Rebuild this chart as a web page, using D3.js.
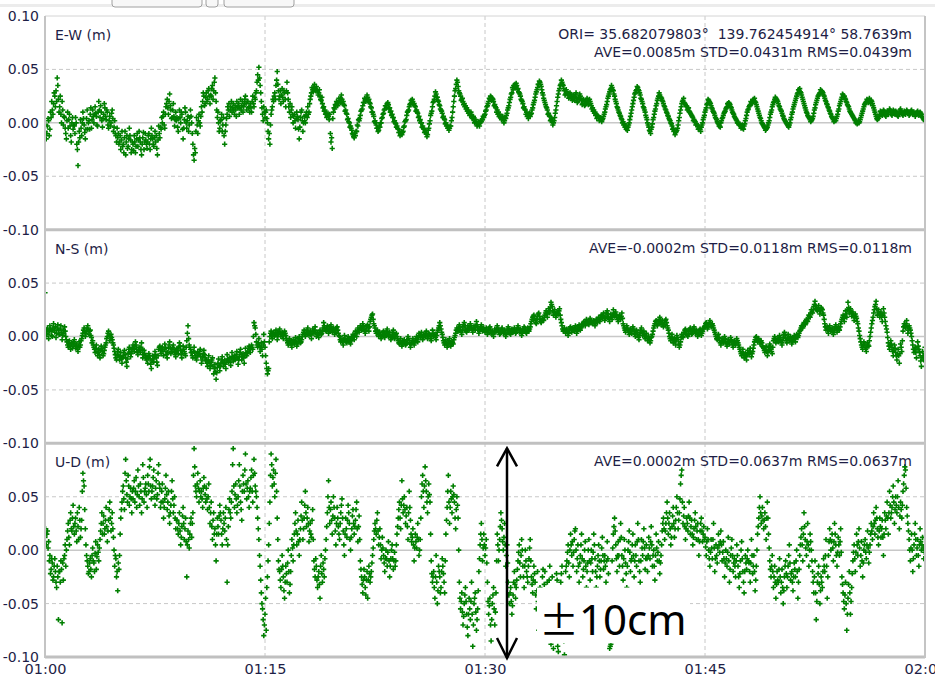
<!DOCTYPE html>
<html>
<head>
<meta charset="utf-8">
<script src="https://cdn.jsdelivr.net/npm/d3@7/dist/d3.min.js"></script>
<style>
    html, body { margin: 0; padding: 0; background: #fff; }
    svg { display: block; }
    .tick text { font-family: "DejaVu Sans", Verdana, sans-serif; font-size: 14px; fill: #1e1e46; }
    .panel-name, .panel-stat { font-family: "DejaVu Sans", Verdana, sans-serif; font-size: 14px; fill: #1e1e46; white-space: pre; }
</style>
</head>
<body>
<svg id="chart" width="935" height="678"></svg>
<script>
"use strict";

// time axis
const timeLabels = ["01:00", "01:15", "01:30", "01:45", "02:00"];
const stepSeconds = 2.5;
const yTicks = [0.10, 0.05, 0.00, -0.05, -0.10];

const panelNames = ["E-W (m)", "N-S (m)", "U-D (m)"];
const panelStats = [
    ["ORI= 35.682079803°  139.762454914° 58.7639m", "AVE=0.0085m STD=0.0431m RMS=0.0439m"],
    ["AVE=-0.0002m STD=0.0118m RMS=0.0118m"],
    ["AVE=0.0002m STD=0.0637m RMS=0.0637m"]
];

// annotation
const arrowTime = "01:31:30";
const arrowLabel = "\u00b110cm";

// series in mm, one row = one minute (2.5 s steps)
const ewMm = [
    -8, -2, -15, -10, -3, 4, 2, -12, -6, 10, 5, 20, 12, 8, 18, 28, 25, 15, 30, 20, 42, 35, 22, 10,
    15, 25, 8, 0, 20, 12, -2, 6, 5, -5, -10, -15, 2, 10, -5, 3, 8, -3, -12, -18, 0, 5, -6, -2,
    -3, -10, 5, 0, -20, -25, -40, -18, -8, -14, 3, -5, -12, 0, 10, 4, -2, -9, -15, -6, 4, 12, -6, 0,
    2, -6, 8, 14, -5, 3, 12, 6, 0, 8, 15, 9, 6, -2, -3, 10, 20, 12, 5, 16, 10, 2, -4, 4,
    8, 18, 14, 6, 3, 12, 10, -2, -5, 2, 6, -3, 0, 9, 12, 4, -8, -4, 2, -10, -12, -18, -5, -14,
    -10, -20, -18, -12, -25, -16, -8, -22, -20, -28, -14, -8, -30, -18, -12, -24, -22, -15, -5, -12, -16, -28, -25, -18,
    -20, -26, -12, -18, -28, -22, -15, -10, -22, -16, -8, -14, -18, -25, -30, -20, -14, -9, -25, -18, -10, -16, -20, -24,
    -18, -12, -10, -20, -25, -15, -5, -12, -15, -20, -22, -14, -8, -18, -12, -24, -30, -16, -3, -10, -14, -4, -6, 5,
    0, 6, 10, -2, -5, 8, 15, 18, 22, 14, 8, 20, 27, 16, 12, 4, 5, 12, 18, 6, -3, 3, 10, 2,
    5, -4, -8, 4, 12, 5, 0, 10, 8, -6, -15, -5, 3, 14, 10, 0, -5, 2, 6, -8, -2, 5, 12, 6,
    0, -10, -20, -30, -35, -24, -28, -8, 5, -2, -10, 2, 8, 0, -3, 6, 15, 10, 20, 28, 25, 16, 18, 24,
    28, 20, 22, 30, 32, 25, 18, 26, 25, 32, 35, 22, 30, 38, 42, 28, 20, 12, 5, 10, 0, -8, -5, 2,
    3, 8, -8, -2, 5, -12, -20, -8, -2, 4, 8, 15, 12, 18, 6, 12, 15, 20, 10, 14, 18, 12, 8, 16,
    12, 6, 20, 15, 14, 18, 8, 14, 22, 12, 16, 20, 10, 15, 18, 22, 25, 18, 12, 20, 20, 14, 15, 10,
    18, 14, 10, 20, 25, 18, 15, 24, 22, 28, 30, 38, 45, 40, 52, 42, 35, 28, 20, 14, 8, 2, 15, 10,
    5, 10, 12, 4, 0, -8, -15, -10, -20, -2, 8, 12, 15, 22, 20, 25, 28, 22, 35, 40, 48, 36, 30, 22,
    25, 30, 18, 26, 32, 24, 20, 30, 28, 22, 15, 30, 38, 28, 22, 15, 10, 18, 5, 12, 15, 8, 0, 6,
    8, 2, -5, 4, 10, 6, 3, -6, -15, -4, 5, 10, 12, 2, -8, 0, 6, 2, 0, 7, 10, 5, 15, 8,
    10, 18, 22, 25, 28, 33, 31, 29, 33, 36, 32, 30, 34, 31, 30, 26, 28, 31, 25, 22, 21, 24, 18, 14,
    15, 11, 12, 8, 9, 5, 7, 9, 6, 3, 8, -10, -18, -14, -24, 4, 10, 14, 13, 17, 16, 20, 18, 16,
    19, 23, 21, 19, 23, 26, 22, 18, 20, 17, 16, 11, 12, 9, 8, 3, 4, 1, 0, -4, -3, -5, -7, -10,
    -11, -13, -14, -10, -12, -8, -8, -2, -3, 3, 2, 4, 7, 11, 12, 13, 16, 19, 19, 23, 22, 20, 23, 26,
    24, 21, 22, 19, 18, 15, 14, 10, 10, 8, 6, 1, 2, 0, -2, -5, -5, -8, -7, -3, -4, 0, 0, 4,
    5, 8, 9, 12, 13, 16, 16, 14, 18, 19, 17, 13, 14, 10, 11, 7, 8, 5, 5, 1, 2, 0, -1, -4,
    -3, -5, -6, -9, -9, -12, -10, -8, -11, -9, -8, -4, -3, 1, 2, 3, 7, 10, 11, 12, 15, 17, 18, 21,
    19, 22, 20, 17, 18, 16, 15, 11, 12, 10, 9, 5, 6, 2, 3, 0, 0, -4, -3, -5, -6, -9, -8, -7,
    -10, -13, -11, -7, -5, -1, 2, 7, 9, 11, 15, 19, 20, 22, 25, 29, 27, 24, 24, 21, 20, 17, 16, 13,
    12, 11, 9, 5, 6, 4, 3, -1, 0, -3, -2, -5, -4, -7, -5, -3, -3, 2, 5, 10, 15, 20, 25, 30,
    32, 36, 40, 38, 34, 30, 28, 27, 25, 21, 22, 23, 20, 17, 18, 15, 16, 13, 14, 11, 12, 9, 10, 7,
    8, 10, 7, 4, 5, 6, 3, 0, 1, 3, 0, -3, -2, 1, -1, -3, 0, 2, 1, 3, 3, 6, 5, 7,
    8, 11, 12, 15, 16, 18, 20, 23, 22, 25, 24, 21, 23, 22, 20, 16, 17, 15, 14, 10, 12, 8, 10, 6,
    8, 5, 6, 3, 4, 6, 3, 0, 2, 5, 4, 7, 9, 12, 14, 16, 19, 22, 24, 27, 28, 33, 31, 35,
    33, 36, 34, 37, 35, 31, 32, 29, 28, 27, 25, 22, 21, 20, 18, 14, 15, 13, 12, 8, 10, 6, 8, 4,
    7, 9, 6, 8, 9, 12, 14, 17, 19, 21, 24, 27, 29, 31, 33, 36, 36, 39, 38, 36, 34, 31, 28, 26,
    23, 21, 19, 17, 15, 14, 12, 8, 9, 7, 6, 2, 3, 4, 1, -2, 0, 2, 5, 9, 12, 16, 20, 24,
    27, 30, 32, 35, 36, 40, 38, 36, 35, 32, 30, 26, 27, 31, 29, 27, 26, 23, 24, 28, 27, 23, 25, 21,
    22, 26, 24, 21, 26, 28, 23, 19, 20, 24, 22, 27, 25, 23, 21, 17, 18, 22, 20, 16, 17, 21, 19, 23,
    21, 17, 18, 22, 20, 18, 16, 13, 14, 11, 12, 9, 10, 7, 8, 4, 7, 6, 5, 2, 4, 5, 3, 1,
    3, 4, 6, 8, 10, 13, 15, 17, 20, 23, 25, 27, 29, 31, 32, 35, 33, 31, 30, 27, 25, 22, 20, 18,
    15, 14, 12, 10, 9, 7, 6, 4, 3, 0, 1, -2, -1, -4, -3, -6, -5, -7, -4, -2, 0, 3, 6, 9,
    12, 15, 18, 21, 24, 27, 28, 30, 31, 34, 33, 31, 30, 28, 26, 23, 22, 20, 18, 15, 14, 12, 10, 7,
    5, 3, 0, -2, -4, -7, -8, -10, -6, -4, -1, 3, 5, 8, 11, 13, 16, 18, 21, 23, 25, 28, 26, 24,
    24, 23, 21, 20, 18, 16, 15, 13, 12, 10, 9, 7, 6, 4, 3, 2, 0, -1, -3, -6, -5, -8, -7, -11,
    -9, -8, -7, -5, -2, 2, 5, 9, 12, 15, 18, 20, 21, 23, 19, 18, 17, 16, 15, 12, 13, 14, 11, 10,
    9, 8, 7, 6, 5, 2, 3, 2, 1, -2, -1, -2, -3, -6, -5, -4, -6, -8, -4, -2, 0, 3, 5, 7,
    10, 12, 14, 17, 18, 22, 21, 20, 19, 18, 16, 14, 13, 11, 10, 9, 7, 5, 4, 3, 1, 0, -1, -3,
    -3, -4, 0, 2, 4, 5, 7, 9, 10, 11, 13, 14, 15, 18, 17, 19, 18, 17, 15, 14, 12, 10, 9, 8,
    6, 5, 4, 3, 2, 0, 0, -1, -2, -1, -3, -5, -4, -2, -5, -6, -3, -1, 2, 4, 7, 10, 12, 13,
    15, 16, 17, 20, 19, 18, 20, 22, 21, 23, 20, 19, 17, 15, 13, 11, 9, 7, 5, 4, 2, 0, -1, -2,
    -3, -4, -5, -7, -6, -5, -4, -2, 0, 2, 5, 8, 10, 12, 15, 17, 19, 20, 22, 24, 23, 22, 21, 20,
    18, 16, 15, 13, 12, 11, 9, 7, 6, 4, 3, 2, 1, 0, -1, -2, -3, -4, -2, 0, 3, 5, 8, 10,
    13, 15, 17, 19, 21, 23, 25, 27, 28, 31, 30, 32, 29, 28, 26, 24, 22, 20, 18, 16, 14, 12, 10, 9,
    7, 6, 5, 4, 3, 1, 2, 3, 4, 6, 9, 12, 14, 17, 19, 21, 23, 25, 26, 27, 28, 31, 29, 30,
    29, 28, 26, 25, 23, 21, 20, 18, 17, 15, 14, 12, 11, 9, 8, 6, 5, 4, 3, 1, 2, 4, 2, 4,
    6, 8, 11, 13, 16, 18, 20, 22, 24, 27, 26, 24, 25, 23, 22, 20, 19, 17, 16, 15, 13, 11, 10, 9,
    8, 7, 6, 5, 4, 3, 2, 0, 1, -1, 0, 2, 0, 1, 3, 5, 7, 9, 11, 13, 15, 17, 18, 19,
    20, 22, 21, 19, 21, 23, 20, 18, 21, 20, 18, 16, 14, 12, 10, 8, 6, 4, 3, 5, 4, 6, 8, 11,
    10, 8, 7, 10, 12, 11, 9, 7, 6, 9, 11, 10, 8, 11, 13, 12, 10, 8, 7, 9, 12, 11, 9, 8,
    11, 10, 8, 7, 6, 8, 10, 12, 13, 11, 9, 8, 7, 9, 11, 10, 8, 10, 12, 11, 10, 9, 7, 8,
    9, 11, 12, 10, 8, 9, 10, 8, 6, 8, 9, 10, 11, 9, 7, 8, 10, 9, 8, 6, 5, 4, 3, 4,
    2
];

const nsMm = [
    41, 0, 3, 6, 8, 2, -2, 5, 10, 7, 5, 1, 0, 8, 12, 6, 4, 9, -1, 3, 8, 11, 6, 2,
    2, 7, 10, 4, -3, 1, 6, 3, 9, 5, 0, -3, -5, -8, -10, -6, -4, -9, -12, -7, -6, -11, -9, -5,
    -3, -7, -11, -9, -7, -12, -14, -9, -5, -10, -8, -4, -2, 1, 3, 6, 8, 4, 0, 3, 5, 8, 10, 6,
    2, 5, 6, 1, -1, -6, -4, -8, -10, -12, -15, -11, -8, -14, -18, -15, -12, -17, -20, -13, -9, -11, -14, -18,
    -16, -13, -10, -8, -6, -2, 0, 3, 5, 1, -4, 0, 2, -1, -3, -6, -8, -11, -14, -17, -20, -22, -17, -14,
    -12, -18, -22, -19, -15, -21, -25, -20, -18, -15, -13, -17, -20, -24, -28, -21, -16, -12, -10, -15, -19, -16, -14, -11,
    -8, -11, -14, -9, -5, -8, -12, -15, -17, -13, -10, -13, -15, -10, -6, -12, -20, -17, -13, -16, -18, -20, -22, -19,
    -25, -20, -16, -18, -21, -26, -30, -23, -18, -21, -24, -19, -14, -17, -20, -24, -27, -18, -12, -10, -9, -13, -16, -12,
    -10, -14, -18, -12, -7, -10, -14, -17, -20, -15, -11, -8, -5, -11, -16, -14, -12, -10, -8, -12, -15, -17, -19, -14,
    -11, -13, -16, -10, -6, -9, -13, -17, -20, -14, -9, -12, -14, -16, -18, -10, -4, 3, 10, -2, -8, -10, -12, -15,
    -15, -18, -20, -14, -10, -15, -18, -20, -22, -18, -14, -16, -17, -14, -12, -19, -25, -22, -19, -16, -13, -17, -20, -23,
    -22, -25, -28, -22, -18, -24, -30, -27, -24, -22, -20, -28, -35, -30, -26, -33, -40, -34, -29, -25, -21, -27, -32, -28,
    -25, -22, -19, -24, -28, -25, -22, -26, -30, -23, -17, -21, -24, -22, -20, -24, -27, -20, -15, -19, -23, -21, -18, -22,
    -21, -17, -14, -20, -26, -22, -19, -15, -12, -17, -22, -19, -16, -20, -25, -18, -11, -15, -18, -16, -14, -11, -9, -12,
    -15, -11, -8, -10, -12, 0, 13, 10, 8, 2, -5, -8, -10, -6, -2, -9, -14, -10, -6, -12, -18, -8, 2, -5,
    -10, -18, -25, -30, -35, -32, -30, -5, 0, 3, 5, 1, -2, 2, 4, 0, 1, 4, 6, 2, -3, 0, 3, 5,
    7, 3, 0, 2, 4, 1, -2, 2, 5, 3, 1, -2, -4, -6, -8, -5, -2, -4, -6, -8, -10, -6, -3, -5,
    -7, -4, -1, -5, -9, -7, -5, -2, 0, -3, -6, -5, -3, 0, 2, 4, 6, 3, 0, 2, 4, 6, 8, 4,
    1, 3, 5, 2, -2, 3, 7, 5, 3, 6, 9, 4, 0, 2, 4, 1, -1, 3, 6, 4, 2, 3, 5, 8,
    13, 10, 8, 6, 5, 8, 10, 6, 3, 5, 7, 9, 11, 7, 4, 6, 8, 5, 2, 4, 6, 8, 9, 6,
    3, 1, 0, -3, -5, -4, -2, -5, -8, -3, 1, -2, -4, -5, -6, -2, 0, -2, -3, -5, -7, -4, -1, 0,
    2, 0, -3, 1, 5, 3, 0, 4, 8, 6, 4, 7, 10, 8, 6, 9, 12, 10, 7, 5, 3, 6, 9, 10,
    11, 8, 5, 9, 14, 16, 18, 20, 21, 16, 12, 10, 8, 5, 3, 5, 6, 3, 0, 2, 4, 1, -2, 0,
    2, 4, 5, 2, -1, 1, 3, 5, 7, 3, 0, 2, 4, 0, -3, -1, 1, 4, 6, 2, -2, 0, 2, 3,
    0, -2, -4, -6, -7, -4, -2, -6, -9, -7, -5, -4, -3, -6, -8, -7, -6, -3, 0, -2, -4, -7, -10, -7,
    -6, -4, -2, -5, -8, -6, -4, -2, 0, -3, -5, -1, 3, 1, -1, 2, 4, 0, -3, -1, 2, 1, 0, 3,
    5, 1, -2, 1, 3, 2, 1, -2, -4, 1, 6, 3, 0, 1, 2, -1, -3, 1, 4, 6, 8, 10, 13, 10,
    7, 4, 2, -1, -4, -6, -8, -5, -3, -7, -10, -8, -6, -4, -2, -6, -9, -7, -5, -6, -7, -3, -1, 1,
    3, 6, 8, 6, 5, 8, 11, 9, 6, 4, 2, 6, 9, 11, 13, 10, 7, 5, 4, 7, 10, 8, 6, 9,
    12, 10, 8, 6, 4, 7, 10, 8, 6, 10, 14, 11, 9, 6, 3, 5, 7, 9, 11, 8, 5, 6, 8, 6,
    4, 6, 8, 5, 2, 4, 6, 8, 9, 6, 3, 4, 5, 2, 0, 4, 7, 5, 4, 7, 10, 8, 6, 4,
    2, 3, 5, 7, 8, 5, 3, 4, 6, 3, 0, 2, 4, 7, 9, 7, 5, 3, 2, 5, 7, 5, 4, 6,
    8, 5, 3, 4, 6, 8, 10, 7, 4, 6, 7, 4, 1, 3, 5, 7, 9, 8, 6, 4, 3, 5, 8, 6,
    5, 7, 9, 12, 14, 16, 18, 19, 20, 17, 15, 13, 12, 16, 19, 21, 22, 19, 16, 14, 13, 15, 17, 16,
    15, 18, 20, 22, 24, 21, 18, 22, 26, 24, 22, 27, 32, 30, 28, 24, 20, 23, 25, 21, 18, 20, 23, 22,
    21, 24, 26, 20, 16, 13, 10, 7, 5, 6, 8, 5, 3, 5, 7, 4, 1, 3, 6, 8, 9, 6, 4, 6,
    8, 6, 5, 8, 10, 6, 3, 5, 7, 9, 11, 8, 6, 8, 9, 11, 12, 13, 14, 12, 10, 13, 16, 14,
    13, 12, 11, 14, 17, 15, 14, 13, 12, 14, 15, 12, 10, 13, 16, 14, 13, 16, 18, 16, 14, 17, 20, 18,
    17, 20, 22, 18, 15, 17, 19, 22, 24, 21, 18, 16, 14, 18, 21, 18, 16, 20, 25, 22, 19, 21, 23, 20,
    18, 16, 14, 17, 20, 18, 16, 19, 22, 17, 12, 10, 8, 6, 4, 7, 10, 8, 6, 4, 2, 5, 7, 5,
    3, 6, 9, 7, 5, 2, 0, 3, 6, 4, 2, -1, -3, 1, 4, 6, 8, 4, 1, 3, 5, 1, -2, 0,
    3, 0, -4, -2, 0, -3, -6, -4, -1, 0, 2, 5, 8, 10, 12, 14, 15, 12, 10, 12, 14, 16, 18, 15,
    11, 13, 15, 12, 9, 11, 13, 15, 16, 13, 10, 8, 6, 3, 0, -2, -4, -1, 2, -2, -6, -4, -2, -5,
    -8, -3, 1, -1, -3, -7, -10, -8, -5, -1, 2, 0, -1, 2, 4, 6, 7, 5, 3, 1, 0, 3, 6, 7,
    8, 5, 2, 3, 5, 7, 9, 6, 3, 4, 6, 3, 0, 2, 4, 6, 7, 4, 1, 3, 5, 7, 8, 9,
    10, 12, 13, 10, 7, 9, 11, 13, 15, 12, 9, 11, 12, 10, 8, 6, 4, 2, 0, -2, -3, -1, 2, -1,
    -4, -6, -8, -5, -2, -4, -6, -3, 0, -2, -5, -7, -9, -6, -3, -5, -7, -4, -1, -3, -5, -8, -10, -7,
    -4, -6, -8, -5, -2, -4, -6, -8, -10, -12, -14, -16, -18, -15, -12, -16, -20, -18, -16, -19, -22, -17, -13, -15,
    -17, -14, -11, -15, -19, -16, -14, -11, -8, -5, -3, -1, 0, -3, -5, -3, -2, -4, -7, -5, -4, -6, -9, -10,
    -11, -13, -15, -12, -9, -14, -18, -15, -13, -10, -7, -9, -12, -14, -16, -10, -4, -2, 0, -3, -6, -4, -2, -4,
    -5, -2, 1, -1, -3, -6, -8, -4, -1, 2, 4, 1, -2, -4, -6, -2, 2, -1, -4, -2, 0, -4, -7, -5,
    -3, -1, 1, -2, -5, -1, 2, 0, -1, 1, 3, 5, 6, 8, 10, 9, 8, 11, 13, 12, 11, 14, 16, 15,
    14, 17, 20, 19, 18, 22, 25, 23, 22, 25, 28, 30, 33, 29, 26, 25, 24, 27, 29, 25, 21, 24, 27, 26,
    25, 22, 20, 16, 12, 9, 6, 8, 9, 6, 3, 7, 10, 7, 5, 6, 8, 5, 2, 4, 7, 9, 11, 8,
    4, 6, 9, 7, 6, 9, 12, 14, 16, 18, 20, 17, 14, 19, 24, 21, 18, 25, 32, 27, 22, 24, 26, 23,
    19, 21, 23, 19, 15, 18, 21, 19, 17, 14, 12, 8, 5, 1, -2, -5, -8, -10, -12, -8, -5, -7, -10, -12,
    -14, -10, -6, -8, -9, -4, 0, 4, 8, 12, 15, 18, 22, 25, 28, 30, 33, 26, 20, 23, 25, 21, 18, 21,
    23, 18, 14, 20, 26, 22, 18, 14, 10, 7, 4, -1, -6, -9, -12, -8, -4, -7, -10, -14, -18, -13, -8, -11,
    -15, -18, -22, -17, -12, -18, -25, -16, -7, -10, -14, -4, 5, 9, 12, 10, 8, 12, 15, 9, 3, 6, 10, 8,
    6, 3, 0, -4, -8, -12, -15, -12, -10, -15, -20, -12, -5, -9, -12, -15, -18, -23, -28, -20, -14, -18, -22, -16,
    -10
];

const udMm = [
    12, 20, 5, 15, 18, 2, 8, -10, -5, -22, -18, -8, -12, -28, -25, -15, -8, -20, -30, -35, -15, -25, -65, -20,
    -20, -30, -10, -18, -68, -12, -28, -8, -5, 5, -15, 0, 10, 18, 25, 12, 5, 28, 35, 20, 18, 30, 42, 22,
    15, 25, 30, 18, 8, 35, 22, 10, 40, 28, 12, 20, 28, 55, 72, 65, 60, 38, 20, 5, -5, -10, -15, -22,
    -20, -12, -8, -18, -25, -5, 2, -10, -12, -20, -3, 8, -18, -6, 5, -2, -10, 2, 10, 18, 25, 35, 15, 25,
    32, 15, 20, 28, 40, 22, 8, 18, 28, 38, 45, 30, 18, 25, 35, 20, 12, 0, -15, -5, -8, -25, -20, -38,
    -12, -18, -5, 15, 30, 38, 45, 55, 60, 48, 38, 72, 85, 65, 52, 45, 70, 60, 42, 50, 58, 48, 35, 55,
    48, 58, 65, 45, 55, 68, 40, 52, 75, 60, 50, 42, 62, 55, 35, 48, 80, 68, 45, 55, 58, 62, 52, 40,
    70, 62, 55, 78, 85, 60, 48, 55, 60, 68, 75, 50, 42, 58, 65, 48, 52, 72, 80, 62, 58, 40, 45, 55,
    62, 45, 30, 40, 48, 58, 70, 52, 38, 45, 55, 32, 25, 35, 42, 55, 65, 48, 35, 42, 50, 30, 20, 28,
    28, 20, 15, 25, 35, 18, 5, 12, 22, 32, 40, 25, 10, 20, 30, 8, -25, 5, 18, 10, 2, 15, 25, 30,
    12, 25, 35, 70, 95, 78, 60, 55, 50, 62, 72, 58, 45, 55, 65, 50, 55, 48, 40, 58, 68, 60, 52, 45,
    58, 48, 38, 50, 62, 40, 25, 35, 45, 22, 10, 28, 35, 15, 20, 5, -10, 15, 30, 22, 15, 32, 42, 35,
    28, 15, 5, 20, 35, 25, 18, 30, 40, 10, -30, 5, 22, 38, 48, 35, 30, 45, 55, 80, 95, 60, 40, 52,
    62, 48, 35, 42, 50, 65, 80, 60, 45, 38, 28, 55, 70, 62, 55, 75, 90, 62, 48, 58, 65, 50, 40, 55,
    58, 68, 75, 55, 45, 70, 85, 72, 60, 55, 50, 40, 30, 20, 10, -5, -15, -28, -40, -50, -55, -65, -80, -70,
    -60, -45, -75, -35, -25, -10, 5, 25, 45, 70, 90, 80, 60, 68, 75, 62, 50, 72, 85, 55, 30, 10, -10, -18,
    -20, -28, -35, -18, -5, -15, -25, -38, -45, -30, -15, -22, -30, -12, 0, -20, -40, -32, -20, -5, 10, 2, -10, 5,
    15, 25, 35, 18, 5, 15, 28, 8, -5, 10, 20, 32, 45, 28, 10, 20, 30, 42, 55, 35, 22, 30, 40, 25,
    8, 18, 25, 15, 12, 28, 38, 10, -10, -18, -25, -8, -15, -28, -35, -25, -20, -32, -45, -15, -5, -22, -30, -12,
    -18, -25, -8, 0, 10, 22, 35, 50, 65, 40, 25, 38, 45, 28, 15, 32, 50, 40, 30, 18, 5, 25, 40, 30,
    22, 15, 10, 25, 35, 42, 48, 30, 18, 5, -5, 15, 30, 20, 12, 28, 42, 35, 25, 10, 0, 12, 20, 32,
    38, 25, 15, 22, 28, 38, 45, 20, 8, 22, 32, 10, -10, -18, -25, -32, -40, -28, -18, -25, -35, -42, -28, -20,
    -45, -28, -15, -22, -30, -25, -20, -12, -5, 2, 10, 18, 25, 20, 15, 28, 35, 18, 5, 12, 20, 5, -8, 0,
    12, 2, -5, -12, -20, -8, 0, -8, -15, -2, 8, -10, -25, -15, -8, 0, 5, -8, -18, -10, -2, -15, -10, 5,
    15, 22, 30, 38, 45, 30, 20, 42, 65, 48, 35, 42, 50, 38, 25, 32, 40, 22, 10, 35, 55, 40, 28, 15,
    8, 12, 20, 5, -10, 2, 15, 8, 2, 12, 25, 10, -5, 0, 10, 30, 50, 62, 70, 55, 40, 60, 78, 65,
    55, 45, 35, 50, 62, 52, 45, 15, -10, -22, -30, -25, -20, -35, -45, -25, -5, -30, -50, -38, -15, -20, -25, -40,
    -35, -20, -8, -15, -22, -30, -40, -10, 15, 28, 40, 55, 70, 45, 25, 40, 55, 48, 35, 50, 60, 52, 45, 30,
    20, 38, 50, 42, 30, 0, -30, -45, -55, -48, -40, -58, -70, -62, -50, -42, -35, -48, -60, -72, -80, -60, -45, -55,
    -65, -48, -30, -60, -90, -70, -50, -45, -40, -58, -75, -65, -55, -38, -20, -8, 5, 15, 25, 10, -10, 2, 15, 5,
    -5, 2, 10, -12, -30, -48, -60, -52, -45, -70, -85, -65, -50, -42, -35, -55, -70, -58, -40, -10, 15, 5, -10, 0,
    10, 22, 35, 28, 20, 8, 0, 12, 25, 5, -15, -5, 5, -12, -30, -42, -50, -40, -35, -48, -60, -52, -42, -30,
    -20, -32, -45, -35, -28, -18, -10, -2, 5, -12, -25, -5, 10, 0, -15, -25, -35, -15, 0, -10, -20, -25, -30, -15,
    -8, 2, 10, -10, -25, -32, -40, -28, -15, -22, -30, -42, -55, -38, -20, -48, -75, -55, -35, -50, -60, -40, -25, -18,
    -45, -32, -20, -50, -70, -45, -30, -40, -50, -28, -15, -60, -88, -50, -25, -65, -92, -75, -60, -48, -40, -22, -28, -90,
    -95, -70, -50, -40, -30, -22, -15, -45, -65, -85, -98, -40, -20, -15, -10, -2, 5, -12, -25, 0, 15, 5, -5, 8,
    -15, -2, 10, 18, 20, 0, -20, -8, 5, -15, -30, -12, -5, 5, 15, -8, -25, -18, -10, 0, 8, -15, -35, -20,
    -12, 0, 10, -10, -28, -12, 0, -8, -20, -2, 15, 5, -8, -20, -35, -25, -15, -5, 5, -10, -25, -18, -10, 2,
    12, -5, -18, -10, -5, -15, -30, -10, 8, -8, -22, -50, -92, -90, -88, -40, -10, 2, 15, 22, 30, 18, 5, -8,
    -20, -5, 8, -5, -15, 10, 25, 12, -5, -15, -28, -8, 10, 0, -12, -22, -35, -15, 0, 8, 18, -2, -20, -10,
    -8, 5, 15, -5, -25, -10, 5, -5, -15, 8, 25, 10, -10, -20, -30, -10, 10, 2, -5, 8, 20, 2, -18, -8,
    5, -8, -20, -5, 12, 2, -8, 8, 22, 5, -15, -5, 0, -15, -28, -5, 15, 2, -10, -2, 8, -10, -22, -12,
    -5, 5, 18, 25, 30, 20, 10, 18, 25, 35, 45, 30, 15, 25, 35, 20, 5, 12, 22, 32, 40, 25, 12, 20,
    28, 40, 50, 35, 20, 28, 35, 48, 62, 70, 75, 45, 25, 32, 40, 22, 10, 20, 30, 25, 18, 32, 45, 30,
    15, 22, 28, 15, 5, 12, 20, 28, 35, 22, 10, 18, 25, 10, -5, 8, 18, 25, 30, 18, 8, 15, 22, 10,
    12, 3, -5, 8, 20, 10, 0, -8, -15, -2, 10, 2, -8, 10, 25, 2, -20, -8, 5, -5, -12, 2, 15, 5,
    -2, 8, 18, 5, -10, -2, 8, -8, -25, -12, 0, -8, -15, -2, 12, -10, -30, -18, -5, 2, 10, -5, -20, -12,
    -8, -15, -25, -10, 5, -5, -15, -25, -35, -22, -10, 0, 8, -8, -20, -30, -40, -20, -5, -12, -18, -8, 0, -10,
    -12, -20, -30, -12, 10, -5, -22, -15, -5, -20, -38, -28, -15, 0, 15, 22, 30, 40, 50, 35, 25, 32, 40, 28,
    20, 28, 35, 22, 10, 30, 45, 30, 15, 2, -10, -18, -25, -15, -5, -20, -35, -25, -15, -30, -45, -32, -20, -28,
    -30, -18, -8, -25, -40, -30, -18, -35, -50, -38, -25, -15, -10, -22, -35, -25, -15, -5, 5, -12, -28, -22, -20, -30,
    -38, -25, -12, -18, -25, -10, 0, -20, -45, -30, -18, -5, 5, 12, 20, 5, -10, 15, 35, 22, 10, 2, -5, 8,
    25, 5, -15, 0, 15, 8, 0, -10, -20, -30, -40, -25, -10, -40, -65, -48, -30, -22, -15, -32, -50, -38, -25, -30,
    -35, -20, -8, -15, -20, -5, 10, -15, -45, -25, -5, 8, 20, 10, 0, 8, 15, 2, -10, 8, 25, 15, 5, -5,
    -15, -2, 12, 5, -5, 8, 20, -2, -25, -32, -40, -48, -55, -42, -30, -50, -75, -60, -45, -32, -20, -40, -60, -48,
    -35, -22, -10, -2, 5, -8, -20, -2, 15, 5, -5, 8, 20, 2, -15, -5, 8, -10, -25, -12, 0, 5, 10, -2,
    -8, 5, 18, 2, -12, -2, 5, 15, 25, 18, 10, 22, 35, 25, 15, 28, 40, 30, 20, 12, 5, 18, 30, 22,
    12, 20, 28, 12, -5, 15, 35, 28, 20, 32, 45, 30, 15, 35, 55, 42, 30, 35, 40, 50, 60, 45, 25, 38,
    50, 42, 35, 50, 65, 40, 20, 32, 45, 38, 30, 42, 55, 62, 70, 78, 75, 58, 40, 32, 25, 18, 10, 0,
    -10, 2, 15, 0, -20, -8, 5, 15, 25, 10, -5, 2, 10, -5, -15, 5, 20, 8, 0, 5, 12, 2, -8, -2,
    5
];

const series = [ewMm, nsMm, udMm];

function drawChart() {
    const svg = d3.select('#chart');
    const plotLeft = 45, plotRight = 925, plotTop = 16, plotBottom = 657;
    const panelH = (plotBottom - plotTop) / series.length;
    const gridColor = '#c8c8c8';
    const markColor = '#007f00';

    // toolbar remains at the top
    svg.append('rect')
        .attr('x', 0).attr('y', 4).attr('width', 935).attr('height', 3)
        .attr('fill', '#ececec');
    [[112, 90], [206, 12], [224, 70]].forEach(b => {
        svg.append('rect')
            .attr('x', b[0]).attr('y', -10).attr('width', b[1]).attr('height', 17)
            .attr('rx', 3)
            .attr('fill', '#f7f7f7')
            .attr('stroke', '#a0a0a0');
    });

    const parseHM = d3.timeParse('%H:%M');
    const tickTimes = timeLabels.map(parseHM);
    const t0 = tickTimes[0];
    const x = d3.scaleTime()
        .domain([t0, tickTimes[tickTimes.length - 1]])
        .range([plotLeft, plotRight]);

    svg.append('defs').append('clipPath').attr('id', 'plot-clip')
        .append('rect')
        .attr('x', plotLeft).attr('y', plotTop)
        .attr('width', plotRight - plotLeft).attr('height', plotBottom - plotTop);

    // vertical grid
    svg.append('g').selectAll('line')
        .data(tickTimes.slice(1, -1))
        .join('line')
        .attr('x1', d => x(d)).attr('x2', d => x(d))
        .attr('y1', plotTop).attr('y2', plotBottom)
        .attr('stroke', gridColor)
        .attr('stroke-dasharray', '4,3');

    const crossPath = 'M-2.6,0H2.6M0,-2.6V2.6';
    let lastY = null;

    series.forEach((vals, i) => {
        const top = plotTop + i * panelH;
        const y = d3.scaleLinear().domain([-0.1, 0.1]).range([top + panelH, top]);
        lastY = y;
        const g = svg.append('g').attr('class', 'panel');

        // horizontal grid
        g.selectAll('.hgrid')
            .data(yTicks.filter(v => Math.abs(v) < 0.09))
            .join('line')
            .attr('class', 'hgrid')
            .attr('x1', plotLeft).attr('x2', plotRight)
            .attr('y1', d => y(d)).attr('y2', d => y(d))
            .attr('stroke', gridColor)
            .attr('stroke-width', d => d === 0 ? 1.5 : 1)
            .attr('stroke-dasharray', d => d === 0 ? null : '4,3');

        // points
        const pts = vals.map((v, k) => ({ t: d3.timeMillisecond.offset(t0, k * stepSeconds * 1000), v: v / 1000 }));
        g.append('g')
            .attr('clip-path', 'url(#plot-clip)')
            .selectAll('path')
            .data(pts)
            .join('path')
            .attr('transform', d => `translate(${x(d.t)},${y(d.v)})`)
            .attr('d', crossPath)
            .attr('stroke', markColor)
            .attr('stroke-width', 1.6)
            .attr('fill', 'none');

        // y axis labels
        const labels = i === 0 ? yTicks : yTicks.slice(1);
        const ax = g.append('g')
            .attr('transform', `translate(${plotLeft},0)`)
            .call(d3.axisLeft(y).tickValues(labels).tickSize(0).tickPadding(6)
                .tickFormat(d => d.toFixed(2)));
        ax.select('.domain').remove();

        // panel name and stats
        g.append('text')
            .attr('class', 'panel-name')
            .attr('x', plotLeft + 10).attr('y', top + 24)
            .text(panelNames[i]);
        g.selectAll('.panel-stat')
            .data(panelStats[i])
            .join('text')
            .attr('class', 'panel-stat')
            .attr('x', plotRight - 13)
            .attr('y', (d, k) => top + 23 + k * 18)
            .attr('text-anchor', 'end')
            .text(d => d);

        // panel bottom separator
        g.append('line')
            .attr('x1', plotLeft).attr('x2', plotRight)
            .attr('y1', top + panelH).attr('y2', top + panelH)
            .attr('stroke', '#c0c0c0')
            .attr('stroke-width', 3);
    });

    // frame
    svg.append('line')
        .attr('x1', plotLeft).attr('x2', plotRight).attr('y1', plotTop).attr('y2', plotTop)
        .attr('stroke', '#d4d4d4');
    svg.append('line')
        .attr('x1', plotLeft).attr('x2', plotLeft).attr('y1', plotTop).attr('y2', plotBottom + 1)
        .attr('stroke', '#c4c4c4').attr('stroke-width', 2);
    svg.append('line')
        .attr('x1', plotRight).attr('x2', plotRight).attr('y1', plotTop).attr('y2', plotBottom + 1)
        .attr('stroke', '#c4c4c4').attr('stroke-width', 2);

    // x axis
    const xa = svg.append('g')
        .attr('transform', `translate(0,${plotBottom})`)
        .call(d3.axisBottom(x).tickValues(tickTimes).tickSize(0).tickPadding(7)
            .tickFormat(d3.timeFormat('%H:%M')));
    xa.select('.domain').remove();
    xa.selectAll('text').style('font-size', '14.5px');

    // ±10cm annotation
    const ax = x(d3.timeParse('%H:%M:%S')(arrowTime));
    const yTop = lastY(0.1) + 5, yBot = lastY(-0.1) + 1;
    const note = svg.append('g');
    note.append('rect')
        .attr('x', ax + 30).attr('y', lastY(-0.035))
        .attr('width', 153).attr('height', lastY(-0.087) - lastY(-0.035))
        .attr('fill', '#fff');
    note.append('line')
        .attr('x1', ax).attr('x2', ax).attr('y1', yTop).attr('y2', yBot)
        .attr('stroke', '#000').attr('stroke-width', 2.5);
    note.append('path')
        .attr('d', `M${ax - 10},${yTop + 18}L${ax},${yTop}L${ax + 10},${yTop + 18}` +
            `M${ax - 10},${yBot - 20}L${ax},${yBot}L${ax + 10},${yBot - 20}`)
        .attr('fill', 'none')
        .attr('stroke', '#000').attr('stroke-width', 2.5);
    const label = note.append('text')
        .attr('x', ax + 32).attr('y', lastY(-0.079))
        .attr('fill', '#000');
    label.append('tspan')
        .attr('font-size', '40px')
        .attr('font-family', '"Noto Sans CJK JP", sans-serif')
        .text(arrowLabel.slice(0, 1));
    label.append('tspan')
        .attr('font-size', '42px')
        .attr('font-family', '"Noto Sans", sans-serif')
        .text(arrowLabel.slice(1));
}

drawChart();
</script>
</body>
</html>
